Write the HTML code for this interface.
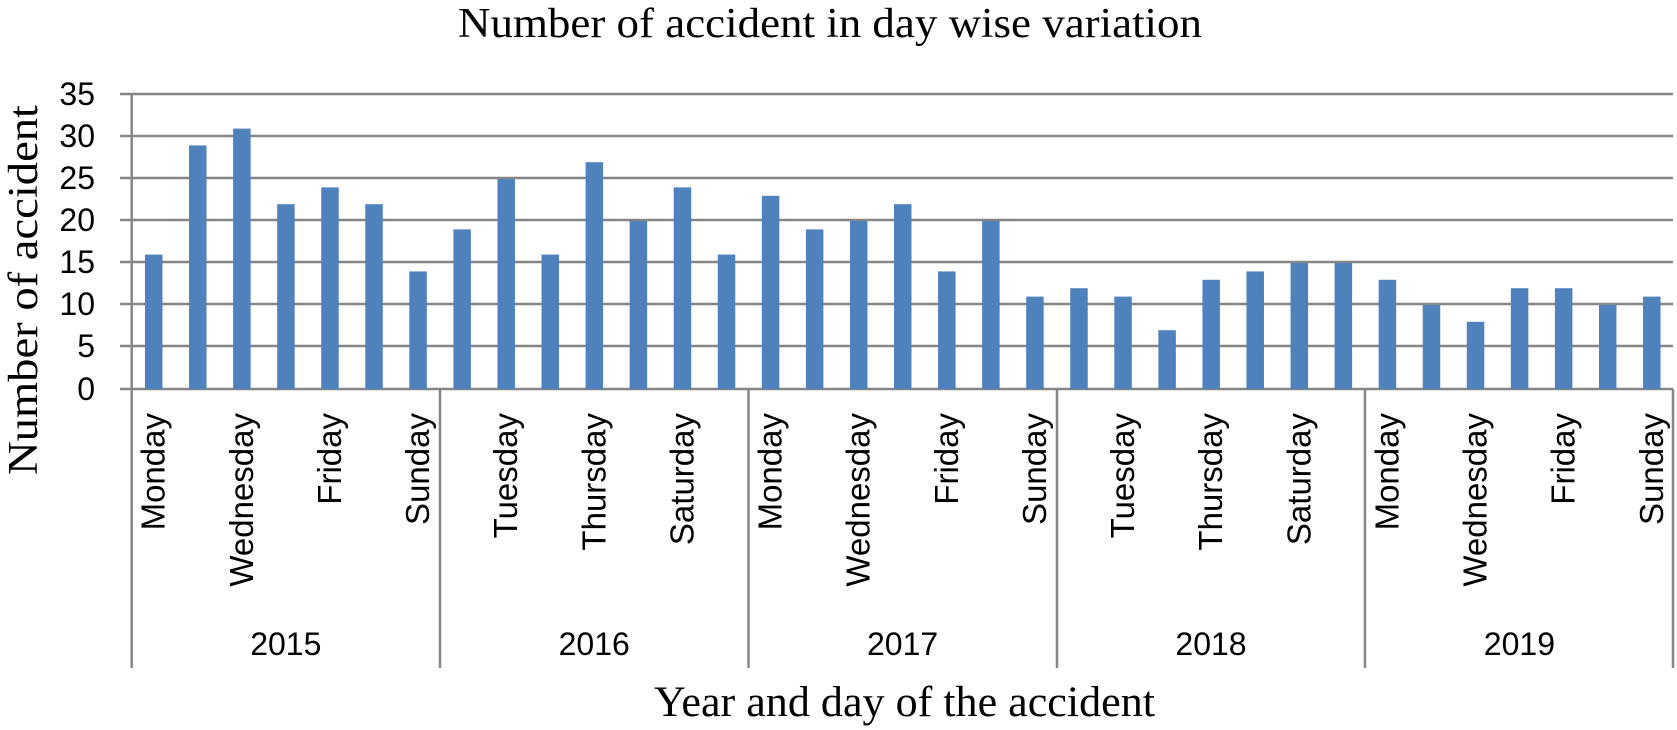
<!DOCTYPE html>
<html><head><meta charset="utf-8"><style>
html,body{margin:0;padding:0;background:#fff;}
svg{display:block;}
</style></head><body>
<svg width="1677" height="730" viewBox="0 0 1677 730" xmlns="http://www.w3.org/2000/svg">
<rect width="1677" height="730" fill="#fff"/>
<text x="458" y="37" font-family="Liberation Serif, serif" font-size="42" textLength="744" lengthAdjust="spacingAndGlyphs" fill="#000">Number of accident in day wise variation</text>
<g stroke="#868686" stroke-width="2.5">
<line x1="120" y1="94" x2="1673" y2="94"/>
<line x1="120" y1="136" x2="1673" y2="136"/>
<line x1="120" y1="178" x2="1673" y2="178"/>
<line x1="120" y1="220" x2="1673" y2="220"/>
<line x1="120" y1="262" x2="1673" y2="262"/>
<line x1="120" y1="304" x2="1673" y2="304"/>
<line x1="120" y1="346" x2="1673" y2="346"/>
<line x1="120" y1="389" x2="1673" y2="389"/>
<line x1="131.7" y1="94" x2="131.7" y2="668"/>
<line x1="440" y1="389" x2="440" y2="668"/>
<line x1="748.5" y1="389" x2="748.5" y2="668"/>
<line x1="1057" y1="389" x2="1057" y2="668"/>
<line x1="1365" y1="389" x2="1365" y2="668"/>
<line x1="1673" y1="389" x2="1673" y2="668"/>
</g>
<g font-family="Liberation Sans, sans-serif" font-size="32" fill="#000" text-anchor="end">
<text x="95" y="105">35</text><text x="95" y="147">30</text><text x="95" y="189">25</text><text x="95" y="231">20</text>
<text x="95" y="273">15</text><text x="95" y="315">10</text><text x="95" y="357">5</text><text x="95" y="400">0</text>
</g>
<text transform="translate(37,290) rotate(-90)" text-anchor="middle" font-family="Liberation Serif, serif" font-size="42" textLength="370" lengthAdjust="spacingAndGlyphs" fill="#000">Number  of accident</text>
<g id="bars" fill="#4f81bd"></g>
<g id="labels" font-family="Liberation Sans, sans-serif" font-size="33" fill="#000"></g>
<g font-family="Liberation Sans, sans-serif" font-size="32" fill="#000" text-anchor="middle">
<text x="285.8" y="655">2015</text><text x="594.2" y="655">2016</text><text x="902.6" y="655">2017</text><text x="1211" y="655">2018</text><text x="1519.4" y="655">2019</text>
</g>
<text x="654" y="716" font-family="Liberation Serif, serif" font-size="43" textLength="501" lengthAdjust="spacingAndGlyphs" fill="#000">Year and day of the accident</text>
<script>
var d=[16,29,31,22,24,22,14,19,25,16,27,20,24,16,23,19,20,22,14,20,11,12,11,7,13,14,15,15,13,10,8,12,12,10,11];
var days=["Monday","Tuesday","Wednesday","Thursday","Friday","Saturday","Sunday"];
var ns="http://www.w3.org/2000/svg",b=document.getElementById("bars"),l=document.getElementById("labels");
for(var i=0;i<35;i++){var c=131.7+44.06*(i+0.5);var r=document.createElementNS(ns,"rect");
r.setAttribute("x",c-8.75);r.setAttribute("width",17.5);r.setAttribute("y",389-8.4*d[i]);r.setAttribute("height",8.4*d[i]);b.appendChild(r);
if(i%2==0){var t=document.createElementNS(ns,"text");t.setAttribute("transform","translate("+(c+11)+",413) rotate(-90)");t.setAttribute("text-anchor","end");t.textContent=days[i%7];l.appendChild(t);}}
</script>
</svg>
</body></html>
